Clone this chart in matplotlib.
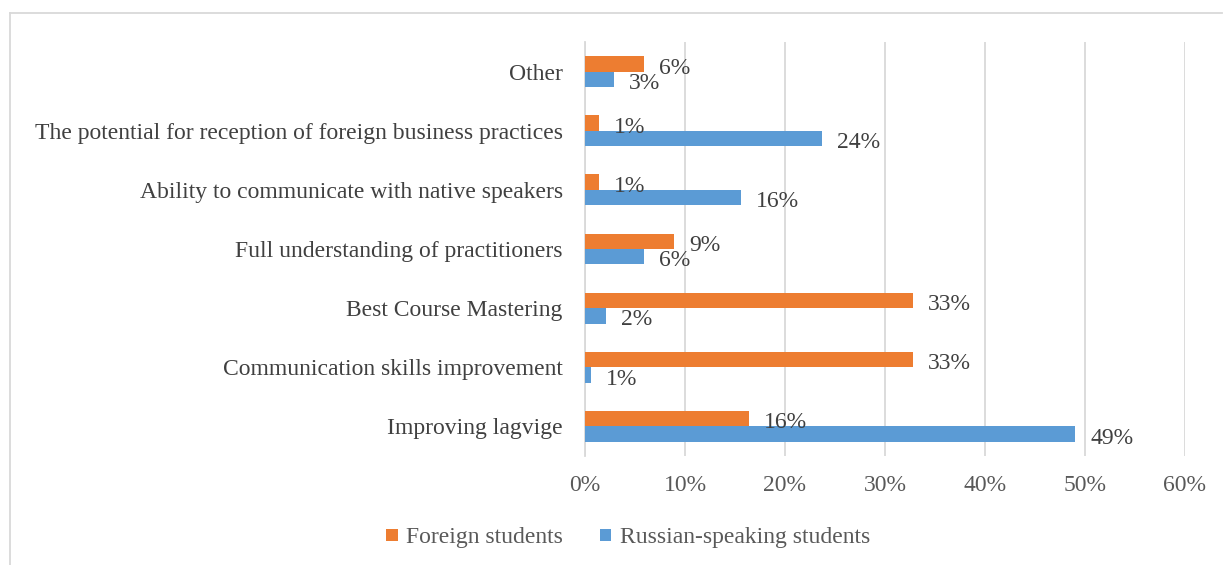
import numpy as np
import matplotlib.pyplot as plt
from matplotlib.lines import Line2D
from matplotlib.ticker import PercentFormatter

# data
categories = ["Improving lagvige", "Communication skills improvement", "Best Course Mastering",
              "Full understanding of practitioners", "Ability to communicate with native speakers",
              "The potential for reception of foreign business practices", "Other"]
foreign = [16.4, 32.8, 32.8, 8.9, 1.4, 1.4, 5.9]
russian = [49.0, 0.6, 2.1, 5.9, 15.6, 23.7, 2.9]
foreign_labels = ["16%", "33%", "33%", "9%", "1%", "1%", "6%"]
russian_labels = ["49%", "1%", "2%", "6%", "16%", "24%", "3%"]

plt.rcParams['font.family'] = ['Liberation Serif', 'DejaVu Serif']

fig = plt.figure(figsize=(12.23, 5.65), dpi=100)
ax = fig.add_axes([585/1223, 109/565, 600/1223, 414/565])

y = np.arange(len(categories))
h = 0.26
orange = '#ED7D31'
blue = '#5B9BD5'
b1 = ax.barh(y + h/2, foreign, height=h, color=orange, label='Foreign students', zorder=3)
b2 = ax.barh(y - h/2, russian, height=h, color=blue, label='Russian-speaking students', zorder=3)

for bars, labs in ((b1, foreign_labels), (b2, russian_labels)):
    for bar, lab in zip(bars, labs):
        ax.annotate(lab, (bar.get_width(), bar.get_y() + bar.get_height()/2),
                    xytext=(11, -3), textcoords='offset points',
                    va='center', ha='left', fontsize=17, color='#404040')

ax.set_xlim(0, 60)
ax.set_ylim(-0.5, 6.5)
ax.set_xticks(np.arange(0, 61, 10))
ax.xaxis.set_major_formatter(PercentFormatter(decimals=0))
ax.set_yticks(y)
ax.set_yticklabels(categories)
ax.tick_params(axis='x', length=0, pad=14, labelsize=17, labelcolor='#595959')
ax.tick_params(axis='y', length=0, pad=16, labelsize=17, labelcolor='#404040')
ax.grid(axis='x', color='#D9D9D9', linewidth=1.3, zorder=0)
for s in ['top', 'right', 'bottom']:
    ax.spines[s].set_visible(False)
ax.spines['left'].set_color('#D9D9D9')
ax.spines['left'].set_linewidth(1.3)

fig.legend(handles=[b1, b2], loc='center', bbox_to_anchor=(628/1223, 1 - 538/565),
           ncol=2, frameon=False, fontsize=17, labelcolor='#595959',
           handlelength=0.5, handleheight=0.4, handletextpad=0.35, columnspacing=1.55)

# outer chart frame
fig.add_artist(Line2D([10/1223, 1222/1223], [1 - 13/565, 1 - 13/565], color='#D9D9D9', lw=1.3))
fig.add_artist(Line2D([10/1223, 10/1223], [0, 1 - 13/565], color='#D9D9D9', lw=1.3))

fig.savefig('out.png', dpi=100)
